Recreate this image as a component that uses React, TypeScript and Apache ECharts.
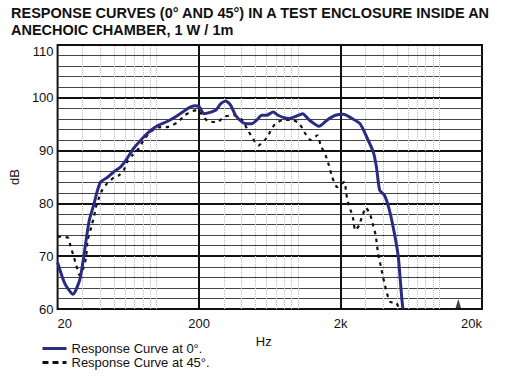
import React, { useEffect, useRef } from "react";
import * as echarts from "echarts";

const titleLines = [
  "RESPONSE CURVES (0° AND 45°) IN A TEST ENCLOSURE INSIDE AN",
  "ANECHOIC CHAMBER, 1 W / 1m",
];
const seriesNames = ["Response Curve at 0°.", "Response Curve at 45°."];
const xTickLabels = ["20", "200", "2k", "20k"];
const yTicks = { min: 60, max: 110, step: 10 };

// 0° response: frequency (Hz) / level (dB)
const freq0 = [
  20, 22.5, 25.7, 28.6, 30.1, 31.8, 33.5, 35.9, 38.3, 40.4, 44.9, 50, 55.7, 61.9, 68.9, 83.5, 92.9,
  103, 121, 142, 167, 186, 201, 216, 236, 263, 285, 309, 334, 362, 403, 436, 472, 512, 554, 600,
  668, 724, 785, 873, 970, 1080, 1202, 1411, 1612, 1840, 2104, 2404, 2746, 3058, 3402, 3588, 3782,
  4096, 4436, 4808, 5126, 5292, 5438, 5526,
];
const db0 = [
  68.8, 64.8, 62.8, 65.4, 68.6, 73.0, 76.8, 79.6, 82.5, 84.1, 84.9, 86.0, 86.9, 88.5, 90.4, 92.9, 94.0,
  94.8, 95.6, 96.7, 98.0, 98.5, 98.3, 97.0, 97.2, 97.7, 98.9, 99.4, 98.6, 96.7, 95.4, 95.1, 95.1, 95.8, 96.7, 96.7,
  97.3, 96.7, 96.3, 96.1, 96.5, 97.0, 95.8, 94.6, 95.8, 96.7, 96.9, 96.1, 95.1, 92.6, 89.8, 86.9, 82.5,
  81.5, 78.7, 74.3, 69.8, 65.4, 61.6, 60.0,
];

// 45° response
const freq45 = [
  20, 23.7, 24.7, 26.1, 27.1, 28.6, 30.6, 31.8, 32.6, 34.5, 36.3, 37.3, 39.4, 41.5, 44.9, 50, 54.2, 58.7,
  62.3, 67.5, 75, 81.2, 90.4, 103, 121, 142, 158, 181, 196, 207, 230, 270, 300, 352, 403, 436, 472, 526,
  585, 634, 687, 785, 921, 1025, 1110, 1233, 1373, 1447, 1568, 1656, 1746, 1892, 2138, 2184, 2254, 2377,
  2470, 2534, 2702, 2854, 3022, 3258, 3402, 3548, 3686, 3842, 3948, 4096, 4256, 4508, 4940, 5206,
];
const db45 = [
  73.7, 73.5, 71.9, 69.8, 68.3, 66.4, 67.9, 69.8, 73.0, 75.4, 77.7, 79.3, 81.2, 82.6, 83.8, 84.9, 85.3, 86.3,
  87.9, 89.1, 90.4, 92.0, 93.5, 94.4, 94.5, 95.4, 96.7, 97.5, 97.7, 97.0, 95.6, 95.4, 96.4, 96.7, 95.8, 94.2, 92.6, 91.0,
  92.0, 93.5, 95.0, 95.8, 95.8, 95.1, 93.5, 92.0, 92.9, 91.0, 89.1, 87.2, 85.0, 83.1, 84.1, 82.2, 80.3, 78.4,
  76.8, 74.9, 75.8, 77.7, 79.2, 77.7, 75.8, 73.9, 70.5, 68.3, 66.7, 64.8, 63.0, 61.3, 61.2, 60.0,
];

// grid reference lines (Hz)
const minorFreqs = [
  30, 40, 50, 60, 70, 80, 90, 100, 300, 400, 500, 600, 700, 800, 900, 1000, 3000, 4000, 5000, 6000,
  7000, 8000, 9000, 10000,
];
const majorFreqs = [200, 2000];
const markerFreq = [13600];
const markerDb = [60];

const FONT = "'Liberation Sans', Arial, Helvetica, sans-serif";

export default function App() {
  const ref = useRef<HTMLDivElement>(null);
  useEffect(() => {
    if (!ref.current) return;
    const chart = echarts.init(ref.current, undefined, { renderer: "svg" });
    const option: any = {
      animation: false,
      textStyle: { fontFamily: FONT },
      title: {
        text: titleLines.join("\n"),
        left: 11,
        top: 4,
        padding: 0,
        textStyle: { fontSize: 14.5, fontWeight: "bold", color: "#111", lineHeight: 17.5, fontFamily: FONT },
      },
      grid: {
        left: 51,
        right: 28,
        top: 45,
        bottom: 76,
        show: true,
        borderColor: "#111",
        borderWidth: 2,
        backgroundColor: "transparent",
      },
      legend: {
        orient: "vertical",
        left: 41,
        top: 342,
        padding: 0,
        itemWidth: 24,
        itemHeight: 14,
        itemGap: 1,
        selectedMode: false,
        textStyle: { fontSize: 13, color: "#111", fontFamily: FONT },
        data: [
          { name: seriesNames[0], itemStyle: { opacity: 0 }, lineStyle: { width: 3, color: "#2b2b84" } },
          { name: seriesNames[1], itemStyle: { opacity: 0 }, lineStyle: { width: 3, type: [6, 4], color: "#111" } },
        ],
      },
      xAxis: [
        {
          type: "log",
          logBase: 10,
          min: 20,
          max: 20000,
          position: "top",
          show: false,
        },
        {
          type: "value",
          min: 0,
          max: 3,
          interval: 1,
          position: "bottom",
          axisLine: { show: false },
          axisTick: { show: false },
          splitLine: { show: false },
          axisLabel: {
            formatter: (v: number) => xTickLabels[Math.round(v)],
            alignMinLabel: "left",
            alignMaxLabel: "right",
            fontSize: 13,
            color: "#111",
            margin: 8,
          },
          name: "Hz",
          nameLocation: "middle",
          nameGap: 20,
          nameTextStyle: { fontSize: 13, color: "#111", padding: [0, 12, 0, 0] },
        },
      ],
      yAxis: {
        type: "value",
        min: yTicks.min,
        max: yTicks.max,
        interval: yTicks.step,
        axisLine: { show: false },
        axisTick: { show: false },
        axisLabel: { fontSize: 13, color: "#111", margin: 4, verticalAlignMaxLabel: "top" },
        splitLine: { show: true, lineStyle: { color: "#111", width: 2 } },
        minorTick: { show: false, splitNumber: 5 },
        minorSplitLine: { show: true, lineStyle: { color: "#444", width: 1 } },
        name: "dB",
        nameLocation: "middle",
        nameGap: 30,
        nameTextStyle: { fontSize: 13, color: "#111" },
      },
      series: [
        {
          name: seriesNames[0],
          type: "line",
          xAxisIndex: 0,
          data: freq0.map((f, i) => [f, db0[i]]),
          symbol: "none",
          smooth: 0.2,
          color: "#2b2b84",
          lineStyle: { color: "#2b2b84", width: 3 },
          z: 4,
        },
        {
          name: seriesNames[1],
          type: "line",
          xAxisIndex: 0,
          data: freq45.map((f, i) => [f, db45[i]]),
          symbol: "none",
          smooth: 0.2,
          color: "#111",
          lineStyle: { color: "#111", width: 2.2, type: [3.5, 4.5] },
          z: 3,
        },
        {
          name: "marker",
          type: "scatter",
          xAxisIndex: 0,
          data: markerFreq.map((f, i) => [f, markerDb[i]]),
          symbol: "triangle",
          symbolSize: [6, 10],
          symbolOffset: [0, "-50%"],
          itemStyle: { color: "#111" },
          clip: false,
          silent: true,
          z: 5,
          markLine: {
            silent: true,
            z: 1,
            symbol: ["none", "none"],
            label: { show: false },
            animation: false,
            data: [
              ...minorFreqs.map((f) => ({ xAxis: f, lineStyle: { color: "#bbb", type: "dotted", width: 1 } })),
              ...majorFreqs.map((f) => ({ xAxis: f, lineStyle: { color: "#111", type: "solid", width: 2 } })),
            ],
          },
        },
      ],
    };
    chart.setOption(option);
    return () => chart.dispose();
  }, []);
  return <div ref={ref} style={{ width: 510, height: 385, position: "absolute", left: 0, top: 0 }} />;
}
